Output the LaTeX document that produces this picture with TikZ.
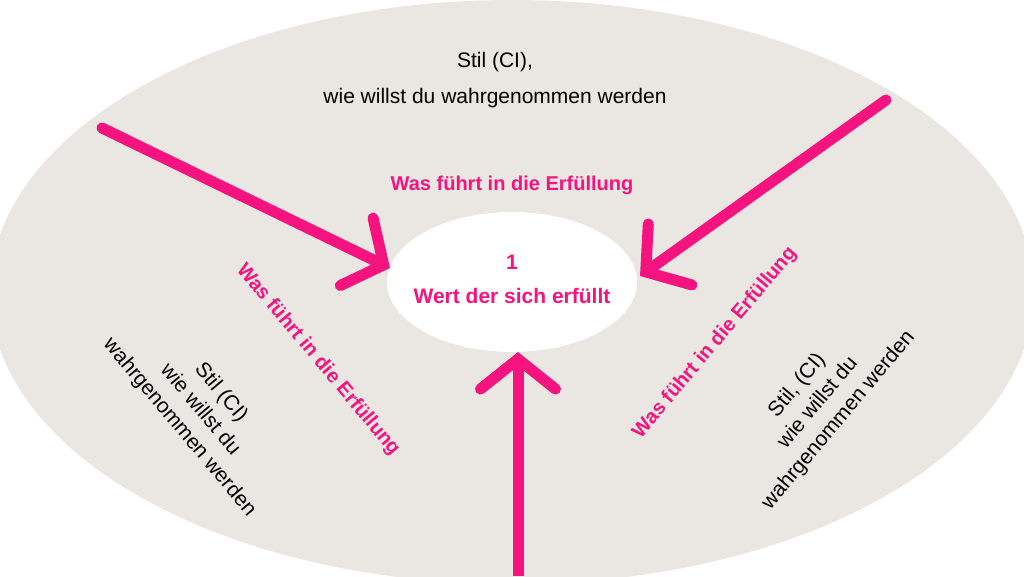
\documentclass[tikz,border=0pt]{standalone}
\usepackage{fontspec}
\setmainfont{Liberation Sans}
\usetikzlibrary{arrows.meta,shapes.geometric}
\definecolor{beige}{HTML}{EAE6E1}
\definecolor{pinkish}{HTML}{F5147F}

\tikzset{
	pfeil/.style = {draw=pinkish, line width=11pt, line cap=round,
		-{Straight Barb[length=30pt,width=75pt,line cap=round]}},
	rot/.style = {text=pinkish, font=\bfseries\fontsize{20}{24}\selectfont, align=center},
	schwarz/.style = {font=\fontsize{21}{27}\selectfont, align=center}
}

\begin{document}
\begin{tikzpicture}[x=1pt,y=-1pt]
	\useasboundingbox (0,0) rectangle (1024,576);
	\begin{scope}
		\clip (0,0) rectangle (1024,576);
		\fill[beige] (512,292) ellipse (522 and 292);
	\end{scope}
	\node[ellipse, fill=white, minimum width=250pt, minimum height=140pt] (kern) at (512,282) {};
	\node[rot, font=\bfseries\fontsize{21}{34}\selectfont] (wert) at (512,279) {1\\Wert der sich erfüllt};

	\node[schwarz, font=\fontsize{21}{36}\selectfont] (oben) at (495,80) {Stil (CI),\\wie willst du wahrgenommen werden};
	\node[rot] (fuehrt) at (512,185) {Was führt in die Erfüllung};

	\node[rot, rotate=-50] (fuehrtL) at (318,360) {Was führt in die Erfüllung};
	\node[schwarz, rotate=-50] (stilL) at (200,410) {Stil (CI)\\wie willst du\\wahrgenommen werden};
	\node[rot, rotate=50] (fuehrtR) at (715,343) {Was führt in die Erfüllung};
	\node[schwarz, rotate=50] (stilR) at (818,403) {Stil, (CI)\\wie willst du\\wahrgenommen werden};

	% Pfeile
	\coordinate (startL) at (102,128);
	\coordinate (zielL) at (390,268);
	\coordinate (startR) at (886,100);
	\coordinate (zielR) at (640,276);
	\coordinate (startU) at (518,576);
	\coordinate (zielU) at (518,352);
	\draw[pfeil] (startL) -- (zielL);
	\draw[pfeil] (startR) -- (zielR);
	\draw[pfeil, line cap=butt] (startU) -- (zielU);
\end{tikzpicture}
\end{document}
